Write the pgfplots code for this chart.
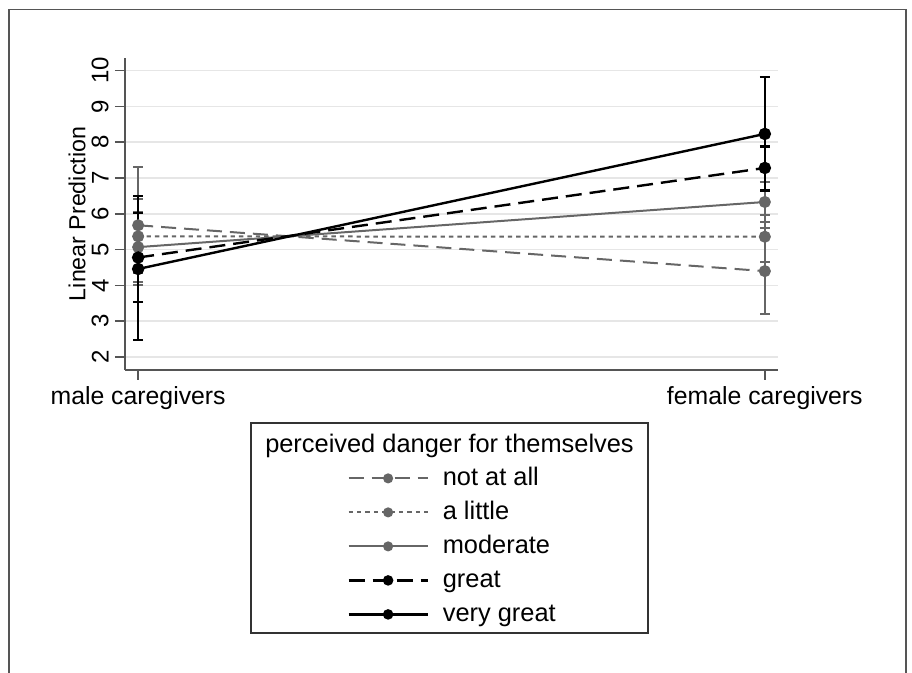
\documentclass[border=0pt]{standalone}
\usepackage{fontspec}
\setmainfont{Liberation Sans}
\usepackage{pgfplots}
\pgfplotsset{compat=1.18}
\definecolor{sgray}{HTML}{666666}
\definecolor{gridc}{HTML}{E6E6E6}
\definecolor{axc}{HTML}{555555}
\definecolor{boxc}{HTML}{333333}
\begin{document}
\begin{tikzpicture}[x=0.5pt,y=0.5pt]
\useasboundingbox (0,0) rectangle (912,673);
\draw[axc, line width=0.8pt] (9,-10) -- (9,663.5) -- (906,663.5) -- (906,-10);
\begin{axis}[
  at={(62.5pt,151.5pt)}, anchor=south west,
  scale only axis, width=326.5pt, height=156pt,
  xmin=-0.021, xmax=1.021, ymin=1.64, ymax=10.35,
  axis x line*=bottom, axis y line*=left,
  axis line style={axc, line width=0.8pt, -},
  xtick={0,1}, xticklabels={male caregivers, female caregivers},
  ytick={2,3,...,10},
  /pgf/number format/assume math mode=true,
  tick align=outside, major tick length=5pt,
  tick style={axc, line width=0.8pt},
  ymajorgrids, grid style={gridc, line width=0.8pt},
  xticklabel style={font=\fontsize{12.4}{14}\selectfont, inner sep=0pt, yshift=-3pt},
  yticklabel style={rotate=90, anchor=south, inner xsep=0pt, inner ysep=3pt, font=\fontsize{12}{14}\selectfont},
  ylabel={Linear Prediction},
  ylabel style={font=\fontsize{11.6}{13}\selectfont, at={(axis description cs:-0.0735,0.5)}, anchor=center},
  legend cell align=left,
  legend style={at={(rel axis cs:0.340,-0.3077)}, anchor=north west, draw=none, fill=none,
    font=\fontsize{12.7}{15}\selectfont, inner sep=0pt, row sep=5pt, column sep=7pt,
    nodes={inner sep=0pt, text height=9.5pt, text depth=2.5pt}},
  legend image code/.code={
    \draw[mark repeat=2, mark phase=2, #1, mark size=2pt] plot coordinates {(0pt,0pt) (19.75pt,0pt) (39.5pt,0pt)};
  },
  error bars/y dir=both, error bars/y explicit,
]
% not at all
\addplot[sgray, line width=1pt, dash pattern=on 7.5pt off 4pt, mark=*, mark size=2.5pt,
  mark options={solid, fill=sgray},
  error bars/error bar style={solid, sgray, line width=1pt},
  error bars/error mark options={solid, sgray, rotate=90, mark size=2.5pt, line width=1pt}]
  coordinates {(0,5.68) += (0,1.64) -= (0,1.68) (1,4.40) += (0,1.19) -= (0,1.21)};
\addlegendentry{not at all}
% a little
\addplot[sgray, line width=1pt, dash pattern=on 2.2pt off 2pt, mark=*, mark size=2.5pt,
  mark options={solid, fill=sgray},
  error bars/error bar style={solid, sgray, line width=1pt},
  error bars/error mark options={solid, sgray, rotate=90, mark size=2.5pt, line width=1pt}]
  coordinates {(0,5.37) += (0,1.03) -= (0,1.02) (1,5.36) += (0,0.60) -= (0,0.71)};
\addlegendentry{a little}
% moderate
\addplot[sgray, line width=1pt, solid, mark=*, mark size=2.5pt,
  mark options={solid, fill=sgray},
  error bars/error bar style={solid, sgray, line width=1pt},
  error bars/error mark options={solid, sgray, rotate=90, mark size=2.5pt, line width=1pt}]
  coordinates {(0,5.07) += (0,0.98) -= (0,0.97) (1,6.33) += (0,0.55) -= (0,0.56)};
\addlegendentry{moderate}
% great
\addplot[black, line width=1.2pt, dash pattern=on 8pt off 4pt, mark=*, mark size=2.5pt,
  mark options={solid, fill=black},
  error bars/error bar style={solid, black, line width=1.1pt},
  error bars/error mark options={solid, black, rotate=90, mark size=2.5pt, line width=1.1pt}]
  coordinates {(0,4.78) += (0,1.25) -= (0,1.24) (1,7.28) += (0,0.60) -= (0,0.61)};
\addlegendentry{great}
% very great
\addplot[black, line width=1.2pt, solid, mark=*, mark size=2.5pt,
  mark options={solid, fill=black},
  error bars/error bar style={solid, black, line width=1.1pt},
  error bars/error mark options={solid, black, rotate=90, mark size=2.5pt, line width=1.1pt}]
  coordinates {(0,4.46) += (0,2.04) -= (0,1.99) (1,8.23) += (0,1.58) -= (0,1.58)};
\addlegendentry{very great}
\end{axis}
\draw[boxc, line width=0.8pt] (251,250) rectangle (648,40);
\node[font=\fontsize{12.7}{15}\selectfont] at (449.5,227) {perceived danger for themselves};
\end{tikzpicture}
\end{document}
